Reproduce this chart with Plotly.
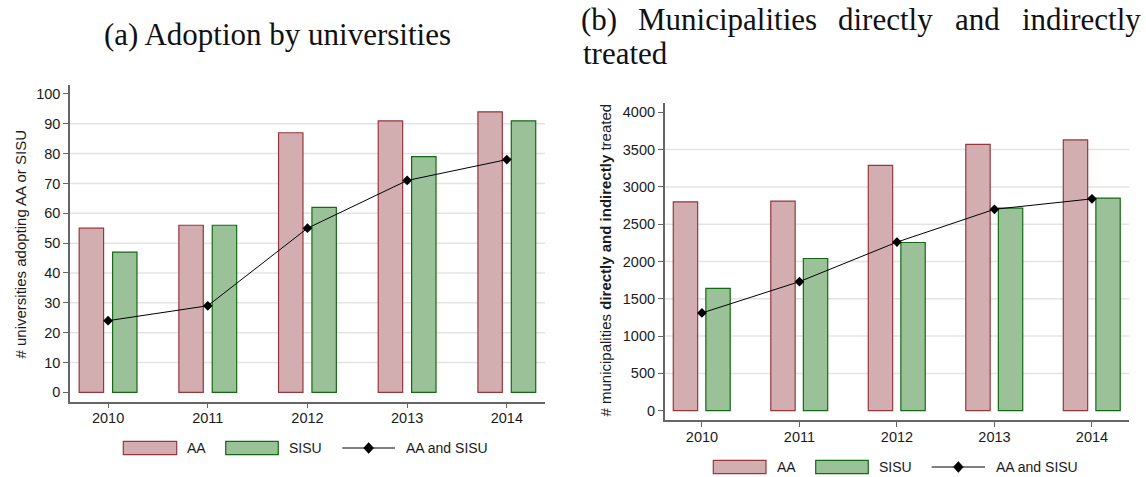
import plotly.graph_objects as go

# ---------------- data ----------------
years = [2010, 2011, 2012, 2013, 2014]
univ_aa = [55, 56, 87, 91, 94]
univ_sisu = [47, 56, 62, 79, 91]
univ_both = [24, 29, 55, 71, 78]
muni_aa = [2800, 2810, 3290, 3570, 3630]
muni_sisu = [1640, 2040, 2255, 2715, 2850]
muni_both = [1310, 1730, 2260, 2700, 2840]
univ_ticks = list(range(0, 101, 10))
muni_ticks = list(range(0, 4001, 500))
univ_grid = list(range(10, 100, 10))
muni_grid = list(range(500, 4000, 500))
legend_labels = ["AA", "SISU", "AA and SISU"]
title_a = "(a) Adoption by universities"
title_b_words = ["(b)", "Municipalities", "directly", "and", "indirectly"]
title_b_line2 = "treated"
ytitle_a = "# universities adopting AA or SISU"
ytitle_b = "# municipalities <b>directly and indirectly</b> treated"

# ---------------- style ----------------
W, H = 1146, 477
AA_FILL = "rgb(211,174,177)"
AA_LINE = "rgb(150,55,62)"
SISU_FILL = "rgb(154,193,152)"
SISU_LINE = "rgb(20,105,20)"
AXIS_COL = "#666666"
GRID_COL = "#e4e4e4"
SANS = "Liberation Sans, Arial, sans-serif"
SERIF = "Liberation Serif, Times New Roman, serif"


def px(x):
    return x / W


def py(y):
    return 1 - y / H


fig = go.Figure()

panels = [
    dict(xa="x", ya="y", aa=univ_aa, sisu=univ_sisu, both=univ_both,
         off_aa=-0.29, off_s=0.045, w=0.245),
    dict(xa="x2", ya="y2", aa=muni_aa, sisu=muni_sisu, both=muni_both,
         off_aa=-0.294, off_s=0.04, w=0.25),
]
for p in panels:
    fig.add_trace(go.Bar(x=years, y=p["aa"], width=p["w"], offset=p["off_aa"],
                         marker=dict(color=AA_FILL, line=dict(color=AA_LINE, width=1.2)),
                         xaxis=p["xa"], yaxis=p["ya"], showlegend=False, name="AA"))
    fig.add_trace(go.Bar(x=years, y=p["sisu"], width=p["w"], offset=p["off_s"],
                         marker=dict(color=SISU_FILL, line=dict(color=SISU_LINE, width=1.2)),
                         xaxis=p["xa"], yaxis=p["ya"], showlegend=False, name="SISU"))
    fig.add_trace(go.Scatter(x=years, y=p["both"], mode="lines+markers",
                             line=dict(color="black", width=1),
                             marker=dict(symbol="diamond", size=7.5, color="black"),
                             xaxis=p["xa"], yaxis=p["ya"], showlegend=False,
                             name="AA and SISU"))

common_axis = dict(showline=True, linecolor=AXIS_COL, linewidth=1.5, ticks="outside",
                   ticklen=5, tickwidth=1.2, tickcolor=AXIS_COL, showgrid=False,
                   zeroline=False, tickfont=dict(family=SANS, size=14.5, color="#1a1a1a"),
                   fixedrange=True)

fig.update_layout(
    width=W, height=H, margin=dict(l=0, r=0, t=0, b=0),
    paper_bgcolor="white", plot_bgcolor="white", barmode="overlay",
    showlegend=False,
    xaxis=dict(domain=[px(70), px(545)], range=[2009.618, 2014.383], tickvals=years,
               anchor="y", ticklabelstandoff=-3, **common_axis),
    yaxis=dict(domain=[py(401.7), py(85)], range=[-3.15, 103], tickvals=univ_ticks,
               anchor="x", **common_axis),
    xaxis2=dict(domain=[px(664.7), px(1129.3)], range=[2009.618, 2014.383], tickvals=years,
                anchor="y2", ticklabelstandoff=-2, **common_axis),
    yaxis2=dict(domain=[py(420), py(103.3)], range=[-125, 4121], tickvals=muni_ticks,
                anchor="x2", **common_axis),
)

shapes = []
for v in univ_grid:
    shapes.append(dict(type="line", xref="x domain", yref="y", x0=0, x1=1, y0=v, y1=v,
                       line=dict(color=GRID_COL, width=1.5), layer="below"))
for v in muni_grid:
    shapes.append(dict(type="line", xref="x2 domain", yref="y2", x0=0, x1=1, y0=v, y1=v,
                       line=dict(color=GRID_COL, width=1.5), layer="below"))

annotations = []

# custom legends
legends = [
    dict(y=448, aa=(123.3, 176.7), aat=185, s=(225.7, 278.3), st=287.3,
         ln=(342.3, 395), lt=404),
    dict(y=467, aa=(713.3, 766), aat=775, s=(815.7, 868.3), st=876.7,
         ln=(931.7, 985), lt=994),
]
for lg in legends:
    yc = lg["y"]
    shapes.append(dict(type="rect", xref="paper", yref="paper",
                       x0=px(lg["aa"][0]), x1=px(lg["aa"][1]), y0=py(yc + 6.7), y1=py(yc - 6.7),
                       fillcolor=AA_FILL, line=dict(color=AA_LINE, width=1.2)))
    shapes.append(dict(type="rect", xref="paper", yref="paper",
                       x0=px(lg["s"][0]), x1=px(lg["s"][1]), y0=py(yc + 6.7), y1=py(yc - 6.7),
                       fillcolor=SISU_FILL, line=dict(color=SISU_LINE, width=1.2)))
    shapes.append(dict(type="line", xref="paper", yref="paper",
                       x0=px(lg["ln"][0]), x1=px(lg["ln"][1]), y0=py(yc), y1=py(yc),
                       line=dict(color="black", width=1)))
    cx = (lg["ln"][0] + lg["ln"][1]) / 2
    path = "M {},{} L {},{} L {},{} L {},{} Z".format(
        px(cx - 5), py(yc), px(cx), py(yc - 5.5), px(cx + 5), py(yc), px(cx), py(yc + 5.5))
    shapes.append(dict(type="path", xref="paper", yref="paper", path=path,
                       fillcolor="black", line=dict(color="black", width=0.5)))
    for txt, tx in zip(legend_labels, [lg["aat"], lg["st"], lg["lt"]]):
        annotations.append(dict(text=txt, x=px(tx), y=py(yc), xref="paper", yref="paper",
                                xanchor="left", yanchor="middle", showarrow=False,
                                font=dict(family=SANS, size=14, color="#1a1a1a")))

# axis titles
annotations.append(dict(text=ytitle_a, x=px(20), y=py(244.5), xref="paper", yref="paper",
                        textangle=-90, showarrow=False, xanchor="center", yanchor="middle",
                        font=dict(family=SANS, size=15, color="#1a1a1a")))
annotations.append(dict(text=ytitle_b, x=px(605), y=py(260.5), xref="paper", yref="paper",
                        textangle=-90, showarrow=False, xanchor="center", yanchor="middle",
                        font=dict(family=SANS, size=15, color="#1a1a1a")))

# panel titles (title b is justified: words centred at measured positions)
TFONT = dict(family=SERIF, size=31, color="#111111")
annotations.append(dict(text=title_a, x=px(277.5), y=py(34), xref="paper", yref="paper",
                        xanchor="center", yanchor="middle", showarrow=False, font=TFONT))
for word, wx in zip(title_b_words, [599, 727.5, 885, 977, 1081.5]):
    annotations.append(dict(text=word, x=px(wx), y=py(19), xref="paper", yref="paper",
                            xanchor="center", yanchor="middle", showarrow=False, font=TFONT))
annotations.append(dict(text=title_b_line2, x=px(581), y=py(54), xref="paper", yref="paper",
                        xanchor="left", yanchor="middle", showarrow=False, font=TFONT))

fig.update_layout(shapes=shapes, annotations=annotations)
fig.write_html("out.html")
